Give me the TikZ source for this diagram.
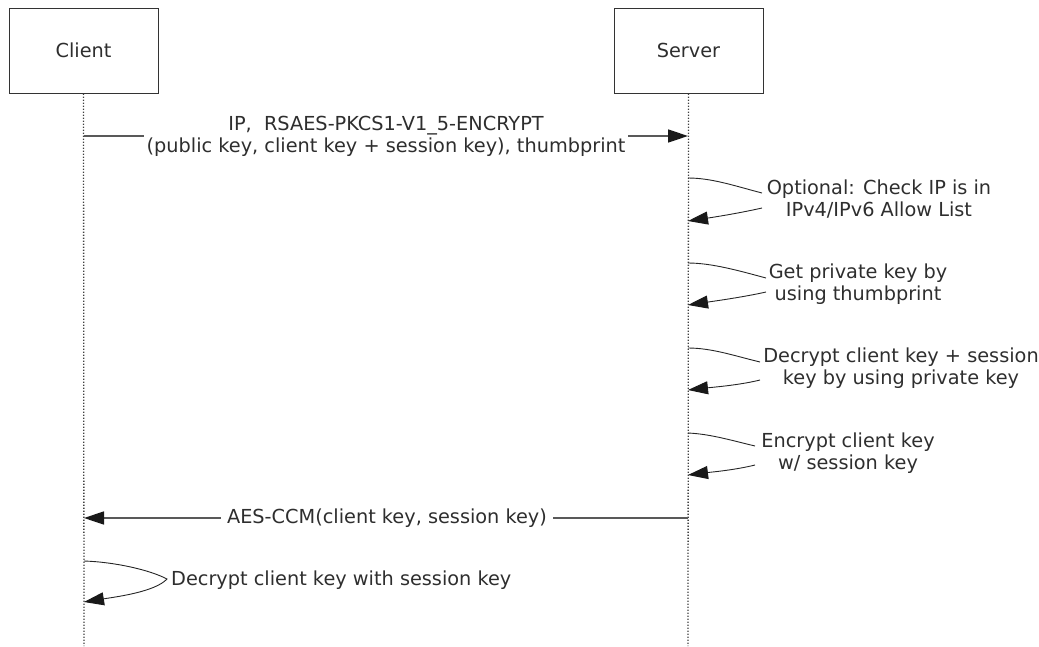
\documentclass[tikz,border=0pt]{standalone}
\usepackage{fontspec}
\setmainfont{DejaVu Sans}
\usetikzlibrary{arrows.meta}
\begin{document}
\begin{tikzpicture}[x=1pt,y=-1pt,
  lbl/.style={font=\fontsize{19.3}{22}\selectfont, text=black!82, align=center, inner sep=0pt},
  actor/.style={draw=black!80, line width=1pt, minimum width=149pt, minimum height=85pt, lbl},
  life/.style={dash pattern=on 1.4pt off 1.6pt, line width=1.3pt, draw=black!75},
  msg/.style={line width=1.5pt, draw=black!65, -{Triangle[length=20pt,width=13pt,color=black!90]}},
  selfm/.style={line width=0.9pt, draw=black!85},
  selfa/.style={selfm, -{Triangle[length=20pt,width=13pt,color=black!90]}}
]
\useasboundingbox (0,0) rectangle (1039,646);
% actors
\node[actor] (client) at (83.5,50.5) {Client};
\node[actor] (server) at (688.5,50.5) {Server};
\coordinate (cbot) at (84,646);
\coordinate (sbot) at (688,646);
\draw[life] (client.south) -- (cbot);
\draw[life] (server.south) -- (sbot);
% message 1
\coordinate (c1) at (84,136);
\coordinate (s1) at (688,136);
\draw[msg] (c1) -- (s1);
\node[lbl, fill=white, inner xsep=3pt] (m1) at (386,136) {IP,\ \ RSAES-PKCS1-V1\_5-ENCRYPT\\(public key, client key + session key), thumbprint};
% self 1
\node[lbl] (t1) at (879,199) {Optional: Check IP is in\\IPv4/IPv6 Allow List};
\coordinate (a1) at (688,178); \coordinate (p1) at (762,193);
\coordinate (q1) at (762,208); \coordinate (b1) at (688,221);
\draw[selfm] (a1) .. controls (712,178) and (735,186) .. (p1);
\draw[selfa] (q1) .. controls (740,213) and (715,217) .. (b1);
% self 2
\node[lbl] (t2) at (858,284) {Get private key by\\using thumbprint};
\coordinate (a2) at (688,263); \coordinate (p2) at (766,278);
\coordinate (q2) at (766,292); \coordinate (b2) at (688,305);
\draw[selfm] (a2) .. controls (712,263) and (740,271) .. (p2);
\draw[selfa] (q2) .. controls (744,297) and (715,301) .. (b2);
% self 3
\node[lbl] (t3) at (901,368) {Decrypt client key + session\\key by using private key};
\coordinate (a3) at (688,348); \coordinate (p3) at (760,362);
\coordinate (q3) at (760,380); \coordinate (b3) at (688,390);
\draw[selfm] (a3) .. controls (712,348) and (735,356) .. (p3);
\draw[selfa] (q3) .. controls (740,385) and (715,387) .. (b3);
% self 4
\node[lbl] (t4) at (848,453) {Encrypt client key\\w/ session key};
\coordinate (a4) at (688,433); \coordinate (p4) at (755,446);
\coordinate (q4) at (755,465); \coordinate (b4) at (688,475);
\draw[selfm] (a4) .. controls (710,434) and (730,440) .. (p4);
\draw[selfa] (q4) .. controls (735,470) and (712,472) .. (b4);
% message 2
\coordinate (s5) at (688,518);
\coordinate (c5) at (84,518);
\draw[msg] (s5) -- (c5);
\node[lbl, fill=white, inner xsep=6pt, inner ysep=2pt] (m5) at (387,518) {AES-CCM(client key, session key)};
% client self
\node[lbl, anchor=west] (t6) at (171,580) {Decrypt client key with session key};
\coordinate (a6) at (84,561); \coordinate (p6) at (167,579);
\coordinate (b6) at (84,602);
\draw[selfa] (a6) .. controls (115,562) and (150,570) .. (p6) .. controls (155,592) and (115,597) .. (b6);
\end{tikzpicture}
\end{document}
